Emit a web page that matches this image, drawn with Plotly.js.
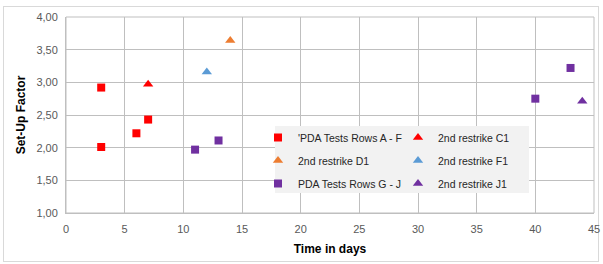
<!DOCTYPE html>
<html><head><meta charset="utf-8">
<script src="https://cdn.plot.ly/plotly-3.0.1.min.js"></script>
<style>
html,body{margin:0;padding:0;background:#fff;}
#wrap{position:absolute;left:3px;top:6px;width:596px;height:256px;border:1px solid #d9d9d9;box-sizing:border-box;}
#chart{position:absolute;left:0;top:0;width:603px;height:264px;}
</style></head>
<body>
<div id="wrap"></div>
<div id="chart"></div>
<script>
const seriesNames = ["'PDA Tests Rows A - F", "2nd restrike C1", "2nd restrike D1", "2nd restrike F1", "PDA Tests Rows G - J", "2nd restrike J1"];
const xAF = [3, 3, 6, 7];
const yAF = [2.92, 2.01, 2.22, 2.43];
const xC1 = [7];
const yC1 = [2.97];
const xD1 = [14];
const yD1 = [3.64];
const xF1 = [12];
const yF1 = [3.16];
const xGJ = [11, 13, 40, 43];
const yGJ = [1.97, 2.11, 2.75, 3.22];
const xJ1 = [44];
const yJ1 = [2.71];
const xTicks = [0, 5, 10, 15, 20, 25, 30, 35, 40, 45];
const yTicks = [1, 1.5, 2, 2.5, 3, 3.5, 4];
const yTickLabels = ["1,00", "1,50", "2,00", "2,50", "3,00", "3,50", "4,00"];

const red = "#ff0000", orange = "#ed7d31", blue = "#5b9bd5", purple = "#7030a0";
function tr(name, x, y, sym, color, size, leg, rank) {
  return {type: "scatter", mode: "markers", name: name, x: x, y: y,
    legend: leg, legendgroup: "g" + rank, legendrank: rank,
    marker: {symbol: sym, color: color, size: size, line: {width: 0}}};
}
const data = [
  tr(seriesNames[0], xAF, yAF, "square", red, 8, "legend", 1),
  tr(seriesNames[1], xC1, yC1, "triangle-up", red, 9, "legend2", 1),
  tr(seriesNames[2], xD1, yD1, "triangle-up", orange, 9, "legend", 2),
  tr(seriesNames[3], xF1, yF1, "triangle-up", blue, 9, "legend2", 2),
  tr(seriesNames[4], xGJ, yGJ, "square", purple, 8, "legend", 3),
  tr(seriesNames[5], xJ1, yJ1, "triangle-up", purple, 9, "legend2", 3)
];
const font = "'Liberation Sans', 'DejaVu Sans', sans-serif";
const legFont = {family: font, size: 10.5, color: "#262626"};
const plotL = 66, plotW = 528, plotT = 17, plotH = 196, plotB = plotT + plotH;
function px2x(p) { return (p - plotL) / plotW; }
function px2y(p) { return (plotB - p) / plotH; }
const layout = {
  width: 603, height: 264,
  margin: {l: plotL, r: 603 - plotL - plotW, t: plotT, b: 264 - plotB},
  paper_bgcolor: "rgba(0,0,0,0)", plot_bgcolor: "#fff",
  font: {family: font, size: 11, color: "#595959"},
  showlegend: true,
  legend: {orientation: "v", x: px2x(258), y: px2y(123), xanchor: "left", yanchor: "top",
    bgcolor: "rgba(0,0,0,0)", font: legFont, tracegroupgap: 4, itemclick: false},
  legend2: {orientation: "v", x: px2x(398), y: px2y(123), xanchor: "left", yanchor: "top",
    bgcolor: "rgba(0,0,0,0)", font: legFont, tracegroupgap: 4, itemclick: false},
  xaxis: {range: [0, 45], tickvals: xTicks, showgrid: true, gridcolor: "#bfbfbf",
    zeroline: false, showline: true, linecolor: "#bfbfbf", ticks: "", ticklabelstandoff: 6,
    title: {text: "Time in days", font: {size: 12, color: "#000", weight: "bold"}, standoff: 10}},
  yaxis: {range: [1, 4], tickvals: yTicks, ticktext: yTickLabels, showgrid: true, gridcolor: "#bfbfbf",
    zeroline: false, showline: true, linecolor: "#bfbfbf", ticks: "", ticklabelstandoff: 5,
    title: {text: "Set-Up Factor", font: {size: 12, color: "#000", weight: "bold"}, standoff: 8}},
  shapes: [
    {type: "rect", xref: "paper", yref: "paper", x0: 0, x1: 1, y0: 0, y1: 1,
      line: {color: "#bfbfbf", width: 1}},
    {type: "rect", xref: "paper", yref: "paper", x0: px2x(275), x1: px2x(529), y0: px2y(193), y1: px2y(126),
      fillcolor: "#f2f2f2", line: {width: 0}, layer: "above"}
  ]
};
Plotly.newPlot("chart", data, layout, {displayModeBar: false, staticPlot: true});
</script>
</body></html>
